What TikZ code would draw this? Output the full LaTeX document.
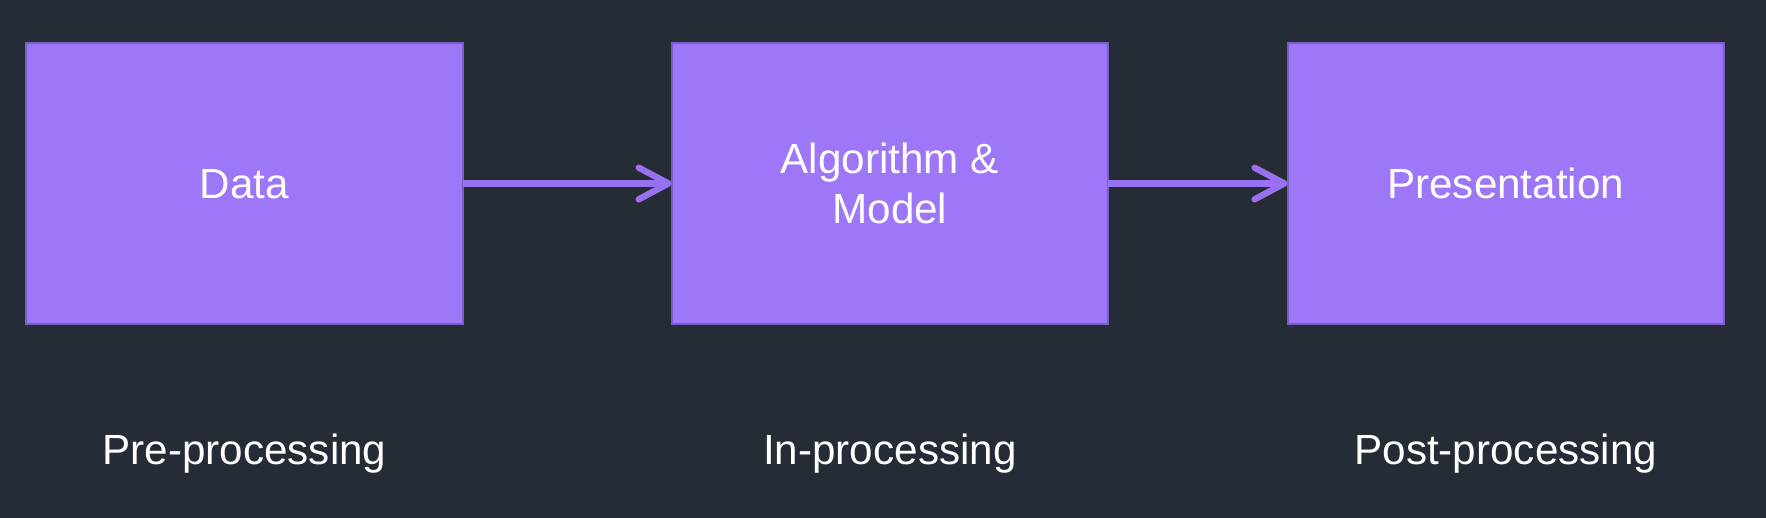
\documentclass[tikz,border=0pt]{standalone}
\usepackage{fontspec}
\setmainfont{Liberation Sans}
\usepackage{xcolor}
\usetikzlibrary{arrows.meta, positioning}
\definecolor{bgdark}{HTML}{262C35}
\definecolor{stagefill}{HTML}{9D77F7}
\definecolor{stageline}{HTML}{7C5CCB}
\definecolor{flowline}{HTML}{9771F0}
\tikzset{
  stage/.style={rectangle, draw=stageline, line width=0.6pt, fill=stagefill,
    minimum width=4.36cm, minimum height=2.81cm, align=center, text=white,
    outer sep=0pt, font=\fontsize{12}{14}\selectfont},
  flat/.style={text depth=0pt},
  stagelbl/.style={text=white, font=\fontsize{12}{14}\selectfont, inner sep=0pt},
  flow/.style={draw=flowline, line width=1.8pt,
    -{Straight Barb[length=8.5pt, width=9pt, round]}}
}

\begin{document}
\begin{tikzpicture}[x=0.01cm, y=0.01cm]
        \fill[bgdark] (0,0) rectangle (1766,518);
        \useasboundingbox (0,0) rectangle (1766,518);

        \node[stage, flat] (data) at (244.5, 334.5) {Data};
        \node[stage, right=2.09cm of data] (algo) {Algorithm \&\\Model};
        \node[stage, flat, right=1.795cm of algo] (pres) {Presentation};

        \node[stagelbl, anchor=base] (pre) at ([yshift=-1.4cm]data.south) {Pre-processing};
        \node[stagelbl, anchor=base] (in) at ([yshift=-1.4cm]algo.south) {In-processing};
        \node[stagelbl, anchor=base] (post) at ([yshift=-1.4cm]pres.south) {Post-processing};

        \foreach \from/\to in {data/algo, algo/pres}
        \draw[flow] (\from) -- (\to);
    \end{tikzpicture}
\end{document}
